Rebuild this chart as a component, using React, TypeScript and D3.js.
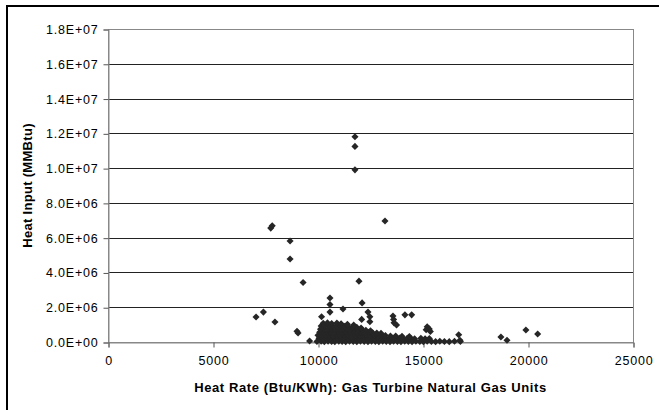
import {useEffect, useRef} from "react"
import * as d3 from "d3"

// scattered units well away from the main cluster [heat rate, heat input]
const outlierUnits: [number, number][] = [
  [7050, 1440000], [7400, 1720000], [7950, 1150000],
  [7750, 6550000], [7820, 6680000], [8670, 5810000], [8670, 4770000],
  [9290, 3420000], [9000, 620000], [9050, 520000], [9600, 60000],
  [11760, 11800000], [11760, 11250000], [11760, 9900000],
  [13190, 6960000], [11950, 3500000],
  [10570, 2530000], [10570, 2150000], [10570, 1720000], [10170, 1450000],
  [11190, 1900000], [12100, 2250000], [12080, 1300000], [12380, 1720000],
  [12470, 1450000], [12470, 1170000],
  [13570, 1500000], [13600, 1300000], [13620, 1100000], [13740, 980000],
  [14140, 1560000], [14460, 1560000],
  [15200, 880000], [15300, 750000], [15150, 700000], [15350, 600000],
  [16700, 420000], [16760, 100000],
  [18710, 290000], [19000, 100000], [19900, 690000], [20460, 460000],
]

// dense band of units between 10000 and 17000 Btu/KWh
const clusterUnits: [number, number][] = [
  [9950, 30000], [10150, 40000], [10300, 20000], [10480, 50000], [10650, 30000],
  [10800, 20000], [10990, 40000], [11150, 30000], [11320, 20000], [11500, 50000],
  [11680, 30000], [11850, 20000], [12020, 40000], [12200, 30000], [12380, 20000],
  [12550, 40000], [12730, 30000], [12900, 20000], [13080, 40000], [13250, 30000],
  [13430, 20000], [13600, 40000], [13780, 30000], [13950, 20000], [14130, 40000],
  [14300, 30000], [14480, 20000], [14660, 40000], [14850, 30000], [15020, 20000],
  [15200, 40000], [15400, 30000], [15600, 20000], [15800, 40000], [16020, 30000],
  [16250, 20000], [16500, 40000], [16780, 30000],
  [10050, 210000], [10250, 190000], [10420, 230000], [10600, 200000], [10780, 220000],
  [10950, 180000], [11120, 210000], [11300, 230000], [11470, 190000], [11650, 200000],
  [11820, 220000], [12000, 190000], [12170, 210000], [12350, 200000], [12520, 230000],
  [12700, 180000], [12880, 210000], [13050, 200000], [13220, 220000], [13400, 190000],
  [13580, 210000], [13760, 200000], [13900, 230000], [14050, 180000], [14250, 210000],
  [14420, 200000], [14600, 190000], [14900, 220000], [15100, 180000], [15300, 200000],
  [10000, 390000], [10180, 370000], [10360, 400000], [10540, 380000], [10720, 360000],
  [10900, 400000], [11080, 380000], [11260, 370000], [11440, 400000], [11620, 380000],
  [11800, 360000], [11980, 390000], [12160, 380000], [12340, 400000], [12520, 370000],
  [12690, 380000], [12860, 360000], [13040, 390000], [13210, 370000], [13450, 350000],
  [13700, 340000], [14000, 330000], [14350, 320000],
  [10080, 560000], [10260, 580000], [10440, 550000], [10620, 570000], [10800, 560000],
  [10980, 590000], [11160, 550000], [11340, 570000], [11520, 560000], [11700, 580000],
  [11880, 550000], [12060, 570000], [12240, 540000], [12420, 560000], [12600, 530000],
  [12800, 520000], [13000, 500000],
  [10120, 740000], [10300, 760000], [10480, 730000], [10660, 750000], [10840, 740000],
  [11020, 770000], [11200, 730000], [11380, 750000], [11560, 740000], [11740, 720000],
  [11920, 710000], [12100, 700000], [12280, 680000], [12500, 650000],
  [10150, 920000], [10340, 940000], [10520, 910000], [10700, 930000], [10880, 920000],
  [11060, 950000], [11250, 900000], [11450, 880000], [11650, 860000], [11850, 840000],
  [12050, 810000],
  [10250, 1080000], [10450, 1110000], [10650, 1060000], [10900, 1090000], [11100, 1050000],
  [11400, 1020000], [11700, 980000],
]

const xTicks = [0, 5000, 10000, 15000, 20000, 25000]
const yTicks = [0, 2e6, 4e6, 6e6, 8e6, 10e6, 12e6, 14e6, 16e6, 18e6]

const xTitle = "Heat Rate (Btu/KWh): Gas Turbine Natural Gas Units"
const yTitle = "Heat Input (MMBtu)"

const plot = {left: 108, right: 633, top: 29, bottom: 342}
const font = "'Liberation Sans', Arial, sans-serif"

const fmtExp = (v: number): string => {
  const s = v.toExponential(1).toUpperCase() // e.g. 1.8E+7
  const [m, e] = s.split("E")
  const sign = e[0] === "-" ? "-" : "+"
  const digits = e.replace(/[+-]/, "").padStart(2, "0")
  return `${m}E${sign}${digits}`
}

const App = (): JSX.Element => {
  const ref = useRef<SVGSVGElement>(null)

  useEffect(() => {
    if (!ref.current) return
    const svg = d3.select(ref.current)
    svg.selectAll("*").remove()

    const x = d3.scaleLinear().domain([0, 25000]).range([plot.left, plot.right])
    const y = d3.scaleLinear().domain([0, 18e6]).range([plot.bottom, plot.top])

    // chart frame
    svg
      .append("rect")
      .attr("x", 7)
      .attr("y", 6)
      .attr("width", 700)
      .attr("height", 500)
      .attr("fill", "white")
      .attr("stroke", "black")
      .attr("stroke-width", 2)

    // gridlines
    svg
      .append("g")
      .selectAll("line")
      .data(yTicks.filter((t) => t > 0 && t < 18e6))
      .join("line")
      .attr("x1", plot.left)
      .attr("x2", plot.right)
      .attr("y1", (d) => Math.round(y(d)) + 0.5)
      .attr("y2", (d) => Math.round(y(d)) + 0.5)
      .attr("stroke", "#222")
      .attr("stroke-width", 1)

    // plot border
    svg
      .append("rect")
      .attr("x", plot.left + 0.5)
      .attr("y", plot.top + 0.5)
      .attr("width", plot.right - plot.left)
      .attr("height", plot.bottom - plot.top)
      .attr("fill", "none")
      .attr("stroke", "#888")
      .attr("stroke-width", 1)

    // axes
    const yAxis = d3
      .axisLeft(y)
      .tickValues(yTicks)
      .tickSize(5)
      .tickPadding(5)
      .tickFormat((d) => fmtExp(d as number))
    const yg = svg
      .append("g")
      .attr("transform", `translate(${plot.left + 0.5},0.5)`)
      .call(yAxis)
    yg.select(".domain").attr("stroke", "#888")
    yg.selectAll(".tick line").attr("stroke", "#555")

    const xAxis = d3
      .axisBottom(x)
      .tickValues(xTicks)
      .tickSize(5)
      .tickPadding(9)
      .tickFormat((d) => String(d))
    const xg = svg
      .append("g")
      .attr("transform", `translate(0.5,${plot.bottom + 0.5})`)
      .call(xAxis)
    xg.select(".domain").attr("stroke", "#888")
    xg.selectAll(".tick line").attr("stroke", "#555")

    svg
      .selectAll(".tick text")
      .attr("font-family", font)
      .attr("font-size", 12.5)
      .attr("letter-spacing", 0.8)
      .attr("fill", "#000")

    // markers
    const diamond = d3.symbol(d3.symbolSquare, 25)
    svg
      .append("g")
      .selectAll("path")
      .data([...clusterUnits, ...outlierUnits])
      .join("path")
      .attr("d", diamond)
      .attr("transform", (d) => `translate(${x(d[0])},${y(d[1])}) rotate(45)`)
      .attr("fill", "#262626")

    // titles
    svg
      .append("text")
      .attr("x", (plot.left + plot.right) / 2)
      .attr("y", 392)
      .attr("text-anchor", "middle")
      .attr("font-family", font)
      .attr("font-size", 13)
      .attr("font-weight", "bold")
      .attr("letter-spacing", 0.6)
      .attr("fill", "#000")
      .text(xTitle)

    svg
      .append("text")
      .attr("transform", `translate(32,${(plot.top + plot.bottom) / 2}) rotate(-90)`)
      .attr("text-anchor", "middle")
      .attr("font-family", font)
      .attr("font-size", 13)
      .attr("font-weight", "bold")
      .attr("letter-spacing", 0.3)
      .attr("fill", "#000")
      .text(yTitle)
  }, [])

  return (
    <svg
      ref={ref}
      width={659}
      height={410}
      style={{position: "absolute", left: 0, top: 0, background: "white"}}
    />
  )
}

export default App
